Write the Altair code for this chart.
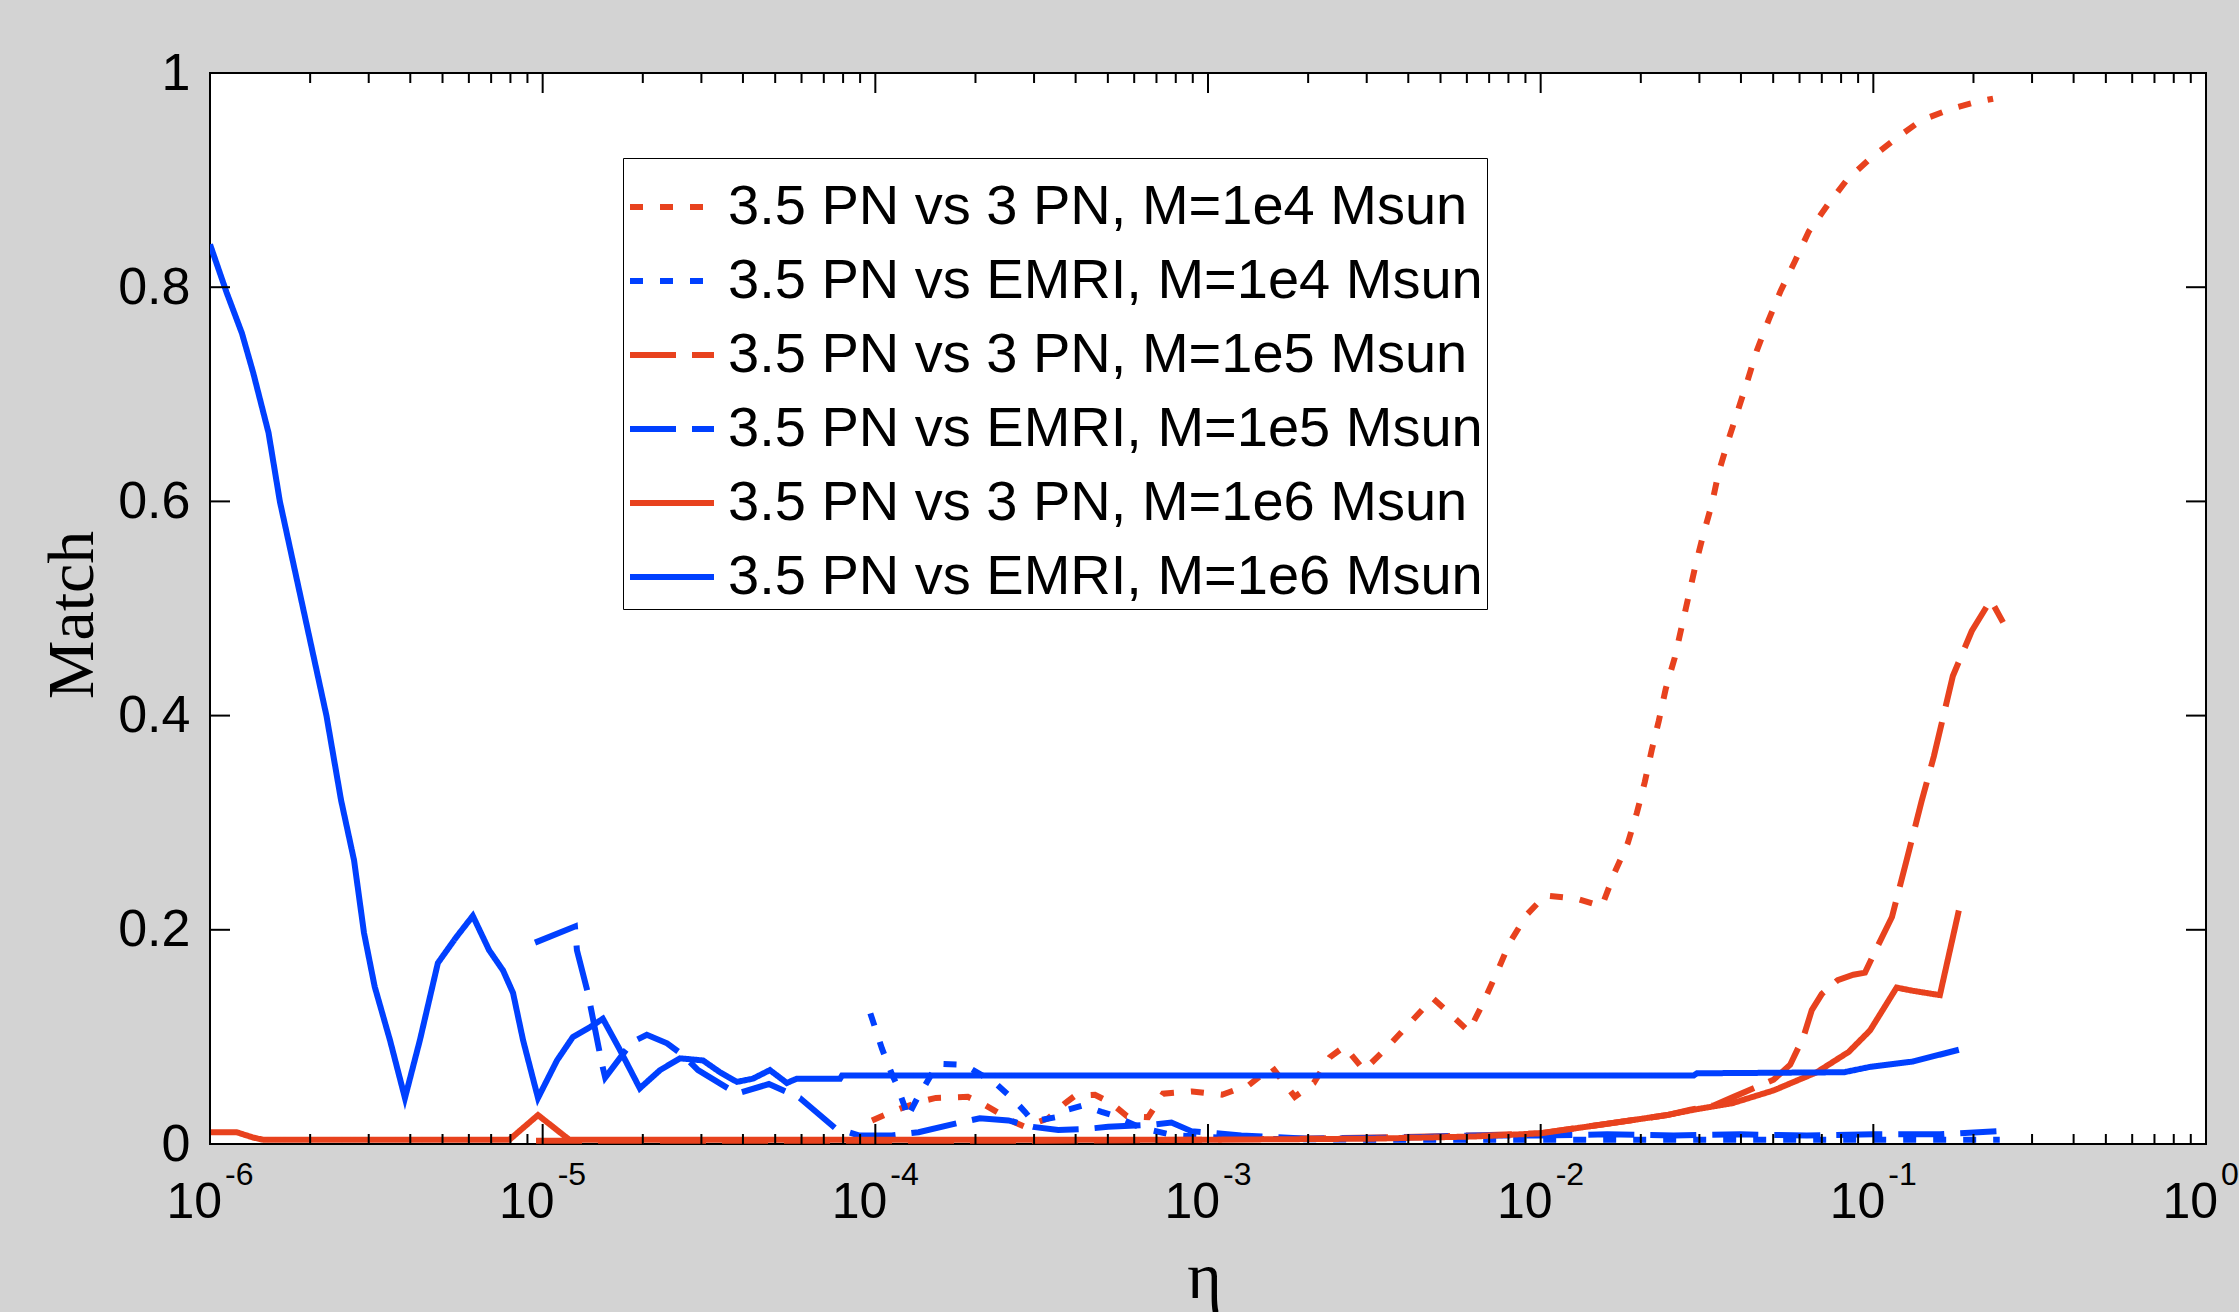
import altair as alt
import pandas as pd

# ---------------- layout ----------------
W, H = 1996, 1071
PAD_L, PAD_T = 210, 73
PAD_R = 2239 - PAD_L - W
PAD_B = 1312 - PAD_T - H

# ---------------- data (log10(eta), match) ----------------
series_names = [
    "3.5 PN vs 3 PN, M=1e4 Msun",
    "3.5 PN vs EMRI, M=1e4 Msun",
    "3.5 PN vs 3 PN, M=1e5 Msun",
    "3.5 PN vs EMRI, M=1e5 Msun",
    "3.5 PN vs 3 PN, M=1e6 Msun",
    "3.5 PN vs EMRI, M=1e6 Msun",
]
series_colors = ["#e8421e", "#0040ff", "#e8421e", "#0040ff", "#e8421e", "#0040ff"]
series_dashes = [[13, 17], [13, 17], [46, 16], [46, 16], [1, 0], [1, 0]]

red_dotted = [
    (-4.01, 0.022), (-3.95, 0.03), (-3.917, 0.034), (-3.86, 0.04), (-3.818, 0.043),
    (-3.722, 0.044), (-3.68, 0.038), (-3.635, 0.030), (-3.58, 0.02), (-3.549, 0.016),
    (-3.48, 0.024), (-3.43, 0.038), (-3.40, 0.045), (-3.34, 0.046), (-3.29, 0.038),
    (-3.244, 0.026), (-3.18, 0.025), (-3.135, 0.047), (-3.048, 0.049), (-2.958, 0.046),
    (-2.877, 0.055), (-2.808, 0.072), (-2.739, 0.044), (-2.682, 0.057), (-2.634, 0.081),
    (-2.59, 0.091), (-2.531, 0.069), (-2.462, 0.09), (-2.393, 0.113), (-2.324, 0.136),
    (-2.267, 0.12), (-2.216, 0.105), (-2.174, 0.131), (-2.129, 0.162), (-2.093, 0.188),
    (-2.042, 0.214), (-1.987, 0.232), (-1.891, 0.229), (-1.816, 0.222), (-1.777, 0.254),
    (-1.738, 0.281), (-1.711, 0.309), (-1.687, 0.338), (-1.666, 0.368), (-1.645, 0.395),
    (-1.624, 0.425), (-1.597, 0.454), (-1.576, 0.483), (-1.555, 0.512), (-1.534, 0.541),
    (-1.512, 0.568), (-1.485, 0.598), (-1.465, 0.627), (-1.435, 0.658), (-1.407, 0.685),
    (-1.377, 0.714), (-1.35, 0.741), (-1.314, 0.77), (-1.278, 0.797), (-1.236, 0.824),
    (-1.194, 0.852), (-1.137, 0.877), (-1.08, 0.9), (-1.01, 0.92), (-0.932, 0.939),
    (-0.855, 0.956), (-0.761, 0.967), (-0.69, 0.973), (-0.64, 0.976),
]

blue_dotted = [
    (-4.015, 0.122), (-3.98, 0.089), (-3.95, 0.065), (-3.935, 0.055), (-3.911, 0.034),
    (-3.905, 0.024), (-3.872, 0.044), (-3.854, 0.053), (-3.824, 0.069), (-3.813, 0.075),
    (-3.733, 0.074), (-3.64, 0.057), (-3.583, 0.041), (-3.55, 0.03), (-3.526, 0.021),
    (-3.457, 0.025), (-3.445, 0.03), (-3.376, 0.036), (-3.32, 0.03), (-3.289, 0.027),
    (-3.2, 0.015), (-3.1, 0.008), (-2.9, 0.005), (-2.5, 0.004), (-2.0, 0.004),
    (-1.5, 0.004), (-1.0, 0.004), (-0.62, 0.004),
]

red_dashed = [
    (-5.02, 0.003), (-4.5, 0.003), (-4.0, 0.003), (-3.5, 0.003), (-3.0, 0.004),
    (-2.5, 0.006), (-2.2, 0.008), (-2.0, 0.01), (-1.82, 0.018), (-1.62, 0.027),
    (-1.55, 0.032), (-1.48, 0.036), (-1.42, 0.044), (-1.36, 0.052), (-1.3, 0.06),
    (-1.25, 0.074), (-1.21, 0.1), (-1.185, 0.125), (-1.155, 0.14), (-1.107, 0.153),
    (-1.06, 0.158), (-1.025, 0.16), (-0.993, 0.181), (-0.944, 0.212), (-0.9, 0.265),
    (-0.855, 0.32), (-0.818, 0.362), (-0.761, 0.437), (-0.704, 0.479), (-0.647, 0.508),
    (-0.61, 0.487),
]

blue_dashed = [
    (-5.023, 0.188), (-4.903, 0.203), (-4.897, 0.181), (-4.864, 0.141), (-4.852, 0.122),
    (-4.822, 0.075), (-4.812, 0.062), (-4.732, 0.095), (-4.687, 0.102), (-4.626, 0.094),
    (-4.578, 0.083), (-4.533, 0.069), (-4.416, 0.047), (-4.32, 0.056), (-4.227, 0.043),
    (-4.121, 0.015), (-4.05, 0.008), (-3.95, 0.008), (-3.87, 0.011), (-3.746, 0.02),
    (-3.686, 0.024), (-3.6, 0.022), (-3.526, 0.016), (-3.45, 0.013), (-3.37, 0.014),
    (-3.3, 0.016), (-3.17, 0.018), (-3.11, 0.02), (-3.05, 0.012), (-2.9, 0.008),
    (-2.7, 0.005), (-2.4, 0.006), (-2.2, 0.008), (-2.0, 0.008), (-1.8, 0.009),
    (-1.6, 0.008), (-1.4, 0.009), (-1.2, 0.008), (-1.0, 0.009), (-0.8, 0.009),
    (-0.63, 0.012),
]

red_solid = [
    (-6.0, 0.011), (-5.92, 0.011), (-5.87, 0.006), (-5.84, 0.004), (-5.5, 0.004),
    (-5.1, 0.004), (-5.014, 0.027), (-4.92, 0.004), (-4.5, 0.004), (-4.0, 0.004),
    (-3.5, 0.004), (-3.0, 0.004), (-2.5, 0.005), (-2.2, 0.007), (-2.0, 0.01),
    (-1.82, 0.018), (-1.62, 0.027), (-1.54, 0.032), (-1.425, 0.038), (-1.3, 0.05),
    (-1.17, 0.067), (-1.074, 0.086), (-1.01, 0.106), (-0.93, 0.146), (-0.88, 0.143),
    (-0.8, 0.139), (-0.743, 0.218),
]

blue_solid = [
    (-6.0, 0.84), (-5.95, 0.795), (-5.904, 0.757), (-5.87, 0.72), (-5.824, 0.664),
    (-5.79, 0.6), (-5.72, 0.5), (-5.65, 0.4), (-5.606, 0.321), (-5.567, 0.265),
    (-5.537, 0.197), (-5.505, 0.147), (-5.459, 0.097), (-5.414, 0.043), (-5.369, 0.097),
    (-5.315, 0.169), (-5.26, 0.193), (-5.21, 0.213), (-5.161, 0.181), (-5.119, 0.162),
    (-5.089, 0.141), (-5.059, 0.097), (-5.014, 0.043), (-4.957, 0.078), (-4.909, 0.1),
    (-4.858, 0.109), (-4.819, 0.117), (-4.768, 0.088), (-4.708, 0.052), (-4.647, 0.069),
    (-4.587, 0.08), (-4.518, 0.078), (-4.467, 0.067), (-4.416, 0.058), (-4.368, 0.061),
    (-4.317, 0.069), (-4.266, 0.057), (-4.236, 0.061), (-4.106, 0.061), (-4.1, 0.064),
    (-1.54, 0.064), (-1.53, 0.066), (-1.088, 0.067), (-1.01, 0.072), (-0.881, 0.077),
    (-0.743, 0.088),
]

series_points = [red_dotted, blue_dotted, red_dashed, blue_dashed, red_solid, blue_solid]

# tick / label values
x_major_exp = [-6, -5, -4, -3, -2, -1, 0]
x_minor_mult = [2, 3, 4, 5, 6, 7, 8, 9]
y_tick_values = [0, 0.2, 0.4, 0.6, 0.8, 1.0]

# ---------------- tables ----------------
rows = []
for k, (name, pts) in enumerate(zip(series_names, series_points)):
    for lg, m in pts:
        rows.append({"eta": 10.0 ** lg, "match": m, "series": name, "k": k})
lines_df = pd.DataFrame(rows)

major_df = pd.DataFrame({"eta": [10.0 ** e for e in x_major_exp],
                         "base": ["10"] * len(x_major_exp),
                         "exp": [str(e) for e in x_major_exp]})
minor_df = pd.DataFrame({"eta": [m * 10.0 ** e for e in x_major_exp[:-1] for m in x_minor_mult]})
ytick_df = pd.DataFrame({"match": y_tick_values})

# ---------------- scales & axes ----------------
xscale = alt.Scale(type="log", domain=[1e-6, 1], nice=False)
yscale = alt.Scale(domain=[0, 1], nice=False, zero=False)

xaxis = alt.Axis(labels=False, ticks=False, domain=False, grid=False, title="η",
                 titleFont="Liberation Serif", titleFontSize=66, titleFontWeight="normal",
                 titleColor="black", titleX=W / 2 - 4, titleY=153,
                 titleAlign="center", titleBaseline="alphabetic")
yaxis = alt.Axis(values=y_tick_values, format="~g", ticks=False, tickSize=0, domain=False,
                 grid=False, labelPadding=20, labelFont="Liberation Sans", labelFontSize=52,
                 labelColor="black", labelFlush=False, labelOverlap=False,
                 title="Match", titleFont="Liberation Serif", titleFontSize=66,
                 titleFontWeight="normal", titleColor="black", titleAngle=270,
                 titleX=-138, titleY=H / 2 + 6, titleAlign="center", titleBaseline="middle")

X = alt.X("eta:Q", scale=xscale, axis=xaxis)
Y = alt.Y("match:Q", scale=yscale, axis=yaxis)

lines = alt.Chart(lines_df).mark_line(strokeWidth=6, clip=True).encode(
    x=X,
    y=Y,
    color=alt.Color("series:N", scale=alt.Scale(domain=series_names, range=series_colors),
                    legend=alt.Legend(title=None)),
    strokeDash=alt.StrokeDash("series:N", scale=alt.Scale(domain=series_names, range=series_dashes),
                              legend=alt.Legend(title=None)),
)

MAJ, MIN = 20, 10
tick_style = dict(color="black", strokeWidth=2)
bot_major = alt.Chart(major_df).mark_rule(**tick_style).encode(x=X, y=alt.value(H), y2=alt.value(H - MAJ))
top_major = alt.Chart(major_df).mark_rule(**tick_style).encode(x=X, y=alt.value(0), y2=alt.value(MAJ))
bot_minor = alt.Chart(minor_df).mark_rule(**tick_style).encode(x=X, y=alt.value(H), y2=alt.value(H - MIN))
top_minor = alt.Chart(minor_df).mark_rule(**tick_style).encode(x=X, y=alt.value(0), y2=alt.value(MIN))
left_ticks = alt.Chart(ytick_df).mark_rule(**tick_style).encode(y=Y, x=alt.value(0), x2=alt.value(MAJ))
right_ticks = alt.Chart(ytick_df).mark_rule(**tick_style).encode(y=Y, x=alt.value(W), x2=alt.value(W - MAJ))

lab_base = alt.Chart(major_df).mark_text(font="Liberation Sans", fontSize=50, align="right",
                                         baseline="alphabetic", dx=12, color="black").encode(
    x=X, y=alt.value(H + 74), text="base:N")
lab_exp = alt.Chart(major_df).mark_text(font="Liberation Sans", fontSize=32, align="left",
                                        baseline="alphabetic", dx=15, color="black").encode(
    x=X, y=alt.value(H + 41), text="exp:N")

chart = alt.layer(
    lines, bot_major, top_major, bot_minor, top_minor, left_ticks, right_ticks, lab_base, lab_exp
).properties(
    width=W, height=H,
    padding={"left": PAD_L, "top": PAD_T, "right": PAD_R, "bottom": PAD_B},
    autosize=alt.AutoSizeParams(type="none"),
    background="#d3d3d3",
).configure_view(
    fill="white", stroke="black", strokeWidth=2
).configure_legend(
    orient="none", legendX=413, legendY=85,
    labelFont="Liberation Sans", labelFontSize=56, labelColor="black", labelLimit=3000,
    labelOffset=11, symbolSize=7056, symbolStrokeWidth=6, symbolType="stroke",
    rowPadding=1, padding=4, fillColor="white", strokeColor="black", cornerRadius=0,
)

chart.save("out.html", embed_options={"renderer": "svg", "actions": False})
